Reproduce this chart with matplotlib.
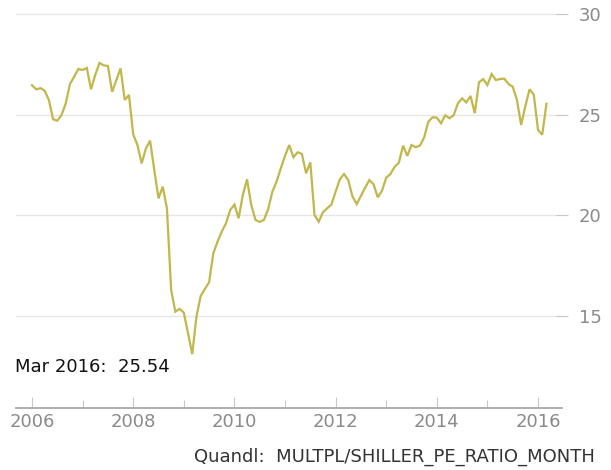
import numpy as np
import matplotlib
matplotlib.use("Agg")
import matplotlib.pyplot as plt
from matplotlib.ticker import MultipleLocator

# Shiller PE ratio, monthly, Jan 2006 .. Mar 2016
start_year = 2006
pe_values = [
    26.46, 26.26, 26.32, 26.19, 25.73, 24.77, 24.70, 24.98, 25.56, 26.52, 26.89, 27.27,  # 2006
    27.22, 27.32, 26.26, 26.97, 27.57, 27.45, 27.42, 26.13, 26.72, 27.30, 25.73, 25.98,  # 2007
    24.02, 23.49, 22.58, 23.31, 23.71, 22.25, 20.84, 21.42, 20.35, 16.29, 15.21, 15.35,  # 2008
    15.16, 14.14, 13.10, 14.96, 15.99, 16.34, 16.67, 18.11, 18.69, 19.19, 19.60, 20.26,  # 2009
    20.53, 19.85, 21.01, 21.79, 20.51, 19.77, 19.67, 19.77, 20.30, 21.17, 21.67, 22.33,  # 2010
    22.95, 23.49, 22.88, 23.13, 23.05, 22.09, 22.63, 20.01, 19.68, 20.15, 20.35, 20.53,  # 2011
    21.17, 21.79, 22.05, 21.75, 20.93, 20.56, 20.96, 21.37, 21.75, 21.54, 20.89, 21.22,  # 2012
    21.87, 22.05, 22.41, 22.61, 23.46, 22.95, 23.49, 23.38, 23.46, 23.87, 24.65, 24.87,  # 2013
    24.85, 24.57, 24.97, 24.82, 24.97, 25.56, 25.81, 25.61, 25.93, 25.07, 26.61, 26.77,  # 2014
    26.47, 27.02, 26.72, 26.77, 26.79, 26.52, 26.39, 25.73, 24.49, 25.43, 26.26, 25.99,  # 2015
    24.24, 24.00, 25.54,                                                                  # 2016
]
last_label = "Mar 2016:  25.54"
source_label = "Quandl:  MULTPL/SHILLER_PE_RATIO_MONTH"

x_major = [2006, 2008, 2010, 2012, 2014, 2016]
y_major = [15, 20, 25, 30]

line_col = '#c1b74c'
grid_col = '#e6e6e6'
tick_col = '#8a8a8a'

years = start_year + np.arange(len(pe_values)) / 12.0

fig = plt.figure(figsize=(6.11, 4.70), dpi=100)
ax = fig.add_axes([0.0262, 0.1326, 0.8936, 0.8504])

ax.plot(years, pe_values, color=line_col, linewidth=1.6, solid_joinstyle='miter')

ax.set_xlim(2005.684, 2016.474)
ax.set_ylim(10.44, 30.3)

ax.set_xticks(x_major)
ax.xaxis.set_minor_locator(MultipleLocator(1))
ax.set_yticks(y_major)
ax.yaxis.tick_right()

ax.grid(axis='y', color=grid_col, linewidth=1.0)
ax.set_axisbelow(True)

for side in ['top', 'left', 'right']:
    ax.spines[side].set_visible(False)
ax.spines['bottom'].set_color('#a8a8a8')
ax.spines['bottom'].set_linewidth(1.3)

ax.tick_params(axis='x', which='major', direction='in', length=8, width=0.8,
               color='#c8c8c8', labelsize=13, labelcolor=tick_col, pad=4)
ax.tick_params(axis='x', which='minor', direction='in', length=5.5, width=0.8,
               color='#c8c8c8')
ax.tick_params(axis='y', which='major', direction='inout', length=8, width=0.8,
               color='#c8c8c8', labelsize=13, labelcolor=tick_col, pad=8)

fig.text(15 / 611, 1 - 367 / 470, last_label, fontsize=13, color='#111111',
         ha='left', va='center')
fig.text(595 / 611, 1 - 457 / 470, source_label, fontsize=13, color='#333333',
         ha='right', va='center')

fig.savefig('out.png', dpi=100)
